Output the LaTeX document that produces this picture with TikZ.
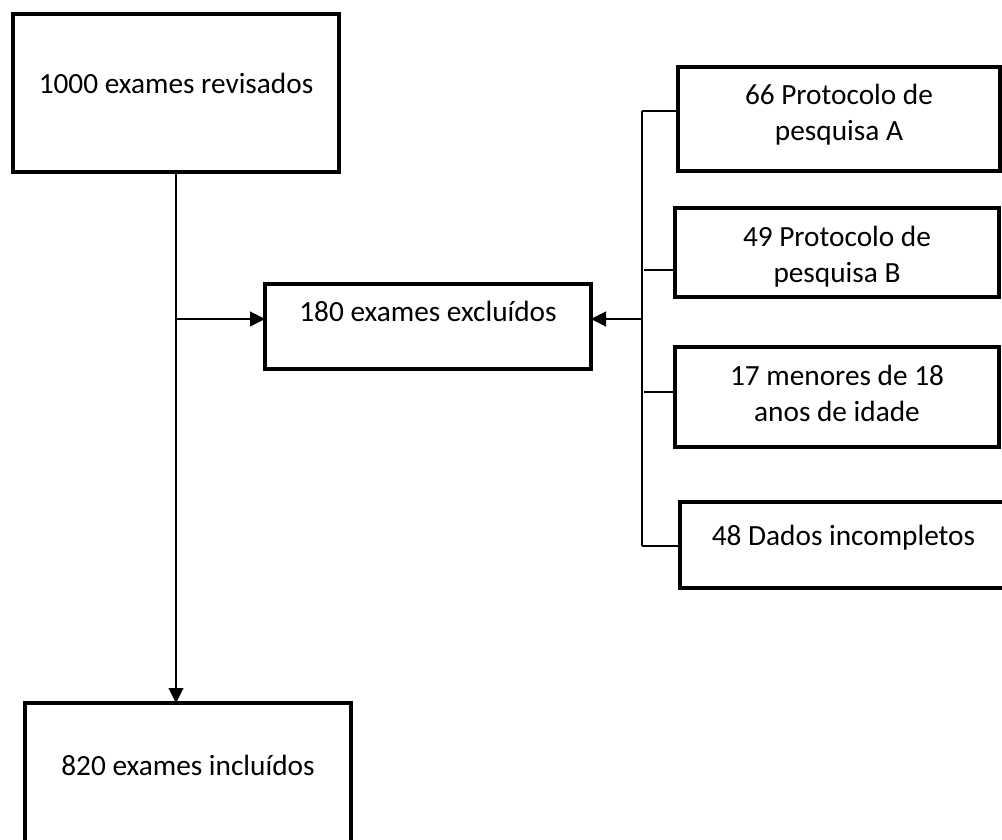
\documentclass[tikz,border=0pt]{standalone}
\usepackage{fontspec}
\setmainfont{Carlito}
\usetikzlibrary{arrows.meta}
\begin{document}
\begin{tikzpicture}[x=1pt,y=-1pt]
  \tikzstyle{caixa}=[draw,rectangle,line width=3.5pt,anchor=north west,inner sep=0pt,outer sep=0pt,align=center,font=\fontsize{29.3}{35.5}\selectfont]
  \tikzstyle{liga}=[line width=1.1pt]
  \tikzstyle{seta}=[liga,-{Triangle[length=15pt,width=15pt]}]
  \useasboundingbox (0,0) rectangle (1002,839);

  \node[caixa,minimum width=326pt,text height=79pt,text depth=79pt] (R) at (13,14)  {1000 exames revisados};
  \node[caixa,minimum width=326pt,text height=37pt,text depth=48pt] (X) at (265,284) {180 exames excluídos};
  \node[caixa,minimum width=326pt,text height=72pt,text depth=75pt] (I) at (25,703)  {820 exames incluídos};

  \node[caixa,minimum width=322pt,text height=73pt,text depth=31pt] (E1) at (678,67)  {66 Protocolo de\\pesquisa A};
  \node[caixa,minimum width=324pt,text height=74pt,text depth=15pt] (E2) at (675,208) {49 Protocolo de\\pesquisa B};
  \node[caixa,minimum width=324pt,text height=74pt,text depth=26pt] (E3) at (675,347) {17 menores de 18\\anos de idade};
  \node[caixa,minimum width=327pt,text height=43pt,text depth=43pt] (E4) at (680,502) {48 Dados incompletos};

  \coordinate (J1) at (176,319);
  \coordinate (J2) at (642,319);
  \coordinate (T1) at (642,111);
  \coordinate (T2) at (644,270);
  \coordinate (T3) at (644,392);
  \coordinate (T4) at (642,546);

  \draw[seta] (R.south) -- (R.south |- I.north);
  \draw[seta] (J1) -- (J1 -| X.west);
  \draw[seta] (J2) -- (J2 -| X.east);

  \draw[liga] (T1) -- (T4);
  \draw[liga] (T1) -- (T1 -| E1.west);
  \draw[liga] (T2) -- (T2 -| E2.west);
  \draw[liga] (T3) -- (T3 -| E3.west);
  \draw[liga] (T4) -- (T4 -| E4.west);
\end{tikzpicture}
\end{document}
